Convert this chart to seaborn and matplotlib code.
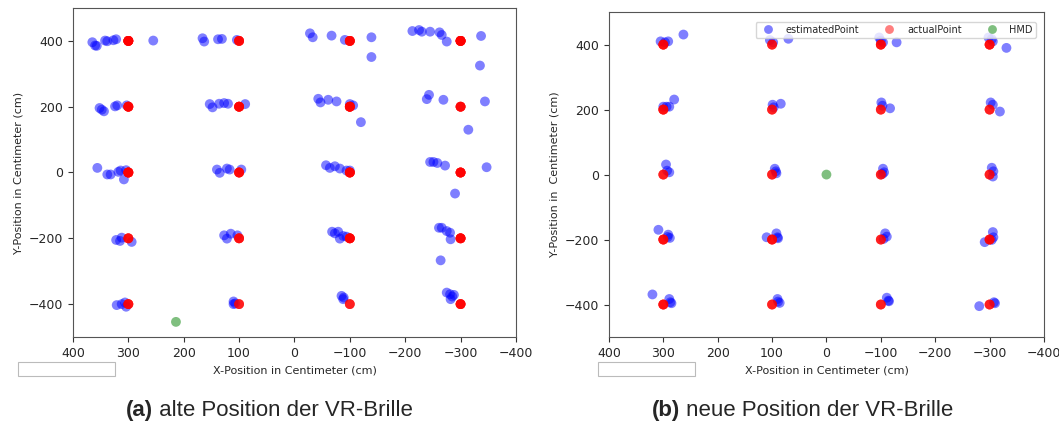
import numpy as np
import pandas as pd
import seaborn as sns
import matplotlib.pyplot as plt
from matplotlib.patches import Rectangle

# ---- (a) alte Position: estimated points and the target each one belongs to
left_est_x = [365, 360, 357, 342, 338, 327, 322, 255,
              166, 163, 138, 131, 104,
              -28, -33, -67, -91, -139, -139,
              -213, -225, -230, -245, -262, -266, -275, -337, -335,
              352, 348, 344, 324, 320, 303,
              153, 148, 136, 127, 120, 89,
              -43, -47, -61, -76, -100, -106, -120,
              -239, -243, -269, -314, -344,
              356, 338, 332, 318, 314, 308, 304,
              140, 135, 122, 117, 96,
              -57, -64, -73, -82, -94, -100,
              -245, -251, -258, -272, -290, -347,
              322, 315, 312, 294,
              127, 122, 115, 103,
              -68, -73, -79, -88, -94, -82,
              -261, -266, -275, -281, -282, -264,
              321, 312, 306, 304,
              110, 107, 110,
              -85, -88, -89,
              -275, -281, -285, -288, -282]
left_est_y = [396, 386, 385, 401, 399, 402, 405, 401,
              408, 398, 405, 406, 403,
              423, 411, 416, 403, 411, 351,
              430, 433, 428, 428, 426, 418, 398, 415, 325,
              196, 191, 186, 201, 204, 204,
              208, 198, 209, 211, 209, 208,
              224, 213, 221, 216, 208, 204, 153,
              223, 236, 221, 130, 216,
              14, -6, -6, 2, 6, -21, 7,
              9, -1, 12, 9, 9,
              22, 14, 19, 12, 6, 6,
              32, 32, 29, 21, -64, 16,
              -205, -208, -198, -211,
              -191, -201, -186, -191,
              -180, -185, -180, -193, -195, -201,
              -168, -168, -178, -183, -203, -267,
              -403, -400, -395, -408,
              -392, -398, -400,
              -375, -385, -380,
              -365, -370, -377, -372, -385]
left_act_x = ([300] * 8 + [100] * 5 + [-100] * 6 + [-300] * 9
              + [300] * 6 + [100] * 6 + [-100] * 7 + [-300] * 5
              + [300] * 7 + [100] * 5 + [-100] * 6 + [-300] * 6
              + [300] * 4 + [100] * 4 + [-100] * 6 + [-300] * 6
              + [300] * 4 + [100] * 3 + [-100] * 3 + [-300] * 5)
left_act_y = ([400] * 28 + [200] * 24 + [0] * 24 + [-200] * 20 + [-400] * 15)
left_hmd = (214, -454)

# ---- (b) neue Position
right_est_x = [305, 297, 291, 263,
               104, 98, 70,
               -97, -100, -104, -129,
               -298, -304, -306, -331,
               300, 294, 289, 280,
               99, 97, 84,
               -101, -103, -117,
               -302, -306, -319,
               295, 293, 289,
               95, 93, 92,
               -104, -106, -103,
               -304, -307, -306,
               309, 291, 288, 292,
               110, 92, 90, 89,
               -108, -111, -105,
               -291, -306, -307, -304,
               320, 289, 287, 285,
               90, 89, 86,
               -111, -114, -115,
               -281, -308, -310]
right_est_y = [410, 407, 410, 431,
               414, 407, 418,
               422, 412, 407, 407,
               422, 417, 410, 390,
               209, 209, 209, 231,
               215, 207, 218,
               222, 212, 204,
               222, 215, 194,
               31, 12, 7,
               18, 10, 4,
               18, 7, 2,
               21, 10, -6,
               -170, -185, -195, -192,
               -193, -181, -193, -196,
               -181, -191, -198,
               -208, -177, -193, -201,
               -369, -383, -393, -396,
               -383, -391, -395,
               -379, -388, -390,
               -405, -393, -396]
right_act_x = ([300] * 4 + [100] * 3 + [-100] * 4 + [-300] * 4
               + [300] * 4 + [100] * 3 + [-100] * 3 + [-300] * 3
               + [300] * 3 + [100] * 3 + [-100] * 3 + [-300] * 3
               + [300] * 4 + [100] * 4 + [-100] * 3 + [-300] * 4
               + [300] * 4 + [100] * 3 + [-100] * 3 + [-300] * 3)
right_act_y = ([400] * 15 + [200] * 13 + [0] * 12 + [-200] * 15 + [-400] * 13)
right_hmd = (0, 0)

labels = ["estimatedPoint", "actualPoint", "HMD"]
palette = {"estimatedPoint": "blue", "actualPoint": "red", "HMD": "green"}


def make_df(ex, ey, ax_, ay_, hmd):
    parts = [
        pd.DataFrame({"x": ex, "y": ey, "kind": labels[0]}),
        pd.DataFrame({"x": ax_, "y": ay_, "kind": labels[1]}),
        pd.DataFrame({"x": [hmd[0]], "y": [hmd[1]], "kind": labels[2]}),
    ]
    return pd.concat(parts, ignore_index=True)


sns.set_style("ticks")
plt.rcParams['font.family'] = ['DejaVu Sans']

fig = plt.figure(figsize=(10.59, 4.23), dpi=100)
ax1 = fig.add_axes([0.0689, 0.2033, 0.4183, 0.7778])
ax2 = fig.add_axes([0.575, 0.2033, 0.4108, 0.768])

dfs = [make_df(left_est_x, left_est_y, left_act_x, left_act_y, left_hmd),
       make_df(right_est_x, right_est_y, right_act_x, right_act_y, right_hmd)]

for i, (ax, df) in enumerate(zip([ax1, ax2], dfs)):
    sns.scatterplot(data=df, x="x", y="y", hue="kind", palette=palette,
                    hue_order=labels, alpha=0.5, s=50, linewidth=0,
                    ax=ax, legend=(i == 1))
    ax.set_xlim(400, -400)
    ax.set_ylim(-500, 500)
    ax.set_xticks(range(400, -401, -100))
    ax.set_yticks([-400, -200, 0, 200, 400])
    ax.tick_params(labelsize=9, color="#333333", length=3.5)
    for sp in ax.spines.values():
        sp.set_color("#555555")
    ax.set_xlabel("X-Position in Centimeter (cm)", fontsize=8)
    ax.set_ylabel("Y-Position in Centimeter (cm)" if i == 0
                  else "Y-Position in  Centimeter (cm)", fontsize=8)

leg = ax2.legend(loc="upper right", ncol=3, fontsize=7, frameon=True,
                 markerscale=0.9, borderpad=0.3, handletextpad=0.8,
                 columnspacing=2.1, bbox_to_anchor=(0.992, 0.985))
for h in leg.legend_handles:
    h.set_alpha(0.5)

# empty boxes under the axes
for x0 in [18, 598]:
    fig.patches.append(Rectangle((x0 / 1059, 1 - 376 / 423), 97 / 1059, 14 / 423,
                                 transform=fig.transFigure, fill=False,
                                 edgecolor="#bbbbbb", linewidth=0.8))

# captions
fig.canvas.draw()
r = fig.canvas.get_renderer()
for start, tag, rest in [(126, "(a)", " alte Position der VR-Brille"),
                         (652, "(b)", " neue Position der VR-Brille")]:
    t = fig.text(start / 1059, 0.016, tag, fontsize=16, fontweight="bold",
                 family="Liberation Sans", va="baseline")
    bb = t.get_window_extent(r)
    fig.text(bb.x1 / fig.bbox.width, 0.016, rest, fontsize=16,
             family="Liberation Sans", va="baseline")

fig.savefig("out.png", dpi=100)
